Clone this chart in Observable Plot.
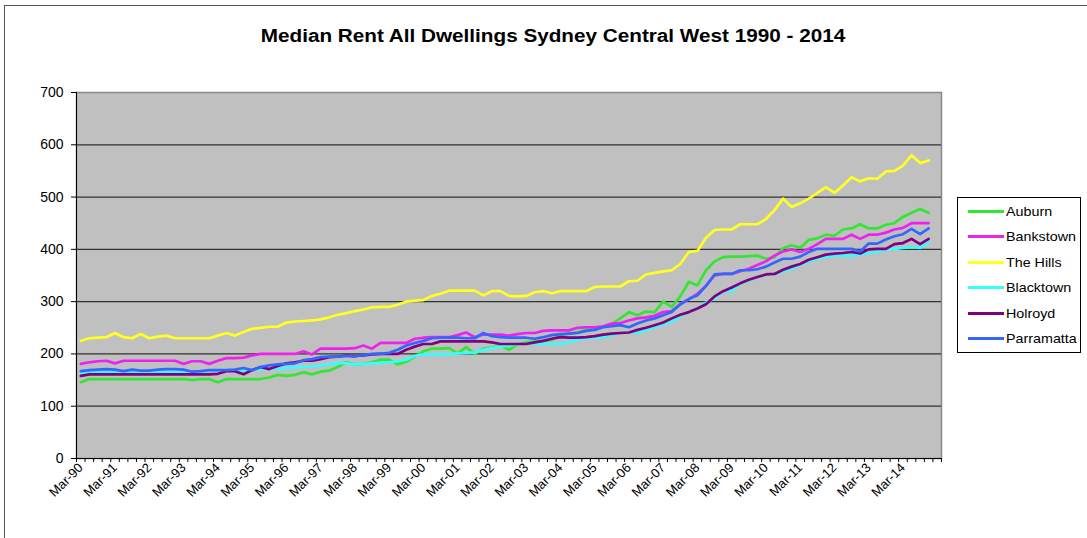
<!DOCTYPE html>
<html>
<head>
<meta charset="utf-8">
<script src="https://cdn.jsdelivr.net/npm/d3@7"></script>
<script src="https://cdn.jsdelivr.net/npm/@observablehq/plot@0.6"></script>
<style>
  html, body { margin: 0; padding: 0; background: #fff; overflow: hidden; }
  body { font-family: "Liberation Sans", Arial, sans-serif; width: 1087px; height: 538px; position: relative; }
  #frame { position: absolute; left: 4px; top: 5px; width: 1100px; height: 600px; border: 1px solid #555; }
  #title { position: absolute; left: 0; top: 26px; width: 1106px; text-align: center; font-weight: bold; font-size: 18px; color: #000; transform: scaleX(1.15); transform-origin: 553px 0; }
  #chart { position: absolute; left: 0; top: 60px; }
  #legend { position: absolute; left: 957px; top: 197px; width: 122px; height: 154px; border: 1px solid #000; background: #fff; }
  .lg-row { position: absolute; left: 0; height: 16px; font-size: 13px; line-height: 16px; white-space: nowrap; }
  .lg-line { position: absolute; left: 10px; top: 6px; width: 36px; height: 3px; }
  .lg-text { position: absolute; left: 48px; top: 0; transform: scaleX(1.1); transform-origin: 0 0; }
</style>
</head>
<body>
<div id="frame"></div>
<div id="title">Median Rent All Dwellings Sydney Central West 1990 - 2014</div>
<div id="chart"></div>
<div id="legend"></div>
<script>
// ---- data ----
const years = ["90","91","92","93","94","95","96","97","98","99","00","01","02","03","04","05","06","07","08","09","10","11","12","13","14"];
const months = ["Mar","Jun","Sep","Dec"];
const seriesNames = ["Auburn","Bankstown","The Hills","Blacktown","Holroyd","Parramatta"];
const seriesColors = ["#33e633","#ee22ee","#ffff22","#33ffff","#800080","#3366ff"];
const yTicks = [0,100,200,300,400,500,600,700];

const auburn = [
146,152,152,152,152,152,152,152,
152,152,152,152,152,150,152,152,
146,152,152,152,152,152,155,160,
158,160,165,161,166,168,175,184,
180,181,184,189,189,180,185,195,
205,210,210,211,201,213,200,210,
212,216,208,218,222,224,225,227,
235,239,242,246,249,252,257,268,
280,274,281,280,300,290,310,338,
331,360,377,385,386,386,387,388,
382,385,402,408,403,418,421,428,
426,438,440,448,440,440,447,450,
462,470,477,470];

const bankstown = [
181,184,186,187,182,187,187,187,
187,187,187,187,181,186,186,181,
187,192,192,193,197,200,200,200,
200,200,205,199,210,210,210,210,
211,216,210,221,221,221,221,229,
231,232,232,232,236,241,232,237,
237,237,235,238,240,240,244,245,
245,245,250,251,251,253,258,259,
264,268,270,273,280,282,295,305,
315,330,350,353,353,358,363,370,
377,388,396,400,395,401,410,420,
420,420,428,420,428,428,432,438,
441,450,450,450];

const theHills = [
225,230,231,232,240,232,230,238,
230,233,235,230,230,230,230,230,
235,240,235,242,248,250,252,252,
260,262,263,264,266,270,275,278,
282,285,289,290,290,294,300,302,
303,311,315,321,321,321,321,312,
320,320,311,310,311,318,320,316,
320,320,320,320,328,329,329,329,
339,340,352,355,358,360,372,395,
397,422,437,438,438,448,448,448,
458,475,497,481,488,497,508,519,
508,522,538,530,536,535,549,550,
560,580,565,570];

const blacktown = [
162,165,165,165,165,165,165,165,
165,165,165,165,165,165,165,168,
168,168,168,168,170,171,171,172,
173,174,175,176,178,180,183,182,
180,181,182,183,184,186,189,196,
199,199,199,199,201,202,203,208,
211,214,216,218,219,219,219,219,
219,223,227,230,231,232,236,240,
242,240,246,251,257,262,272,280,
287,298,306,320,320,335,340,347,
351,353,358,363,370,377,382,385,
388,388,388,390,393,395,400,401,
403,404,403,413];

const holroyd = [
158,161,161,161,161,161,161,161,
161,161,161,161,161,161,161,161,
162,167,167,161,169,175,171,177,
182,184,187,187,190,194,195,197,
196,197,199,200,200,200,208,214,
219,219,224,224,224,224,224,224,
222,219,219,219,219,222,225,229,
232,231,231,232,234,237,239,240,
241,246,250,255,260,268,275,280,
287,295,310,320,327,335,342,347,
352,353,361,367,372,380,385,390,
392,393,395,392,400,401,401,410,
412,420,410,420];

const parramatta = [
167,169,170,171,170,167,170,168,
168,170,171,171,170,166,167,169,
169,169,170,173,169,175,178,180,
181,182,188,190,194,195,195,196,
195,198,200,200,202,208,216,221,
225,230,231,231,231,230,230,240,
234,232,231,231,231,229,232,236,
238,239,240,244,246,251,253,255,
251,258,264,268,274,280,295,305,
312,330,352,353,353,360,360,362,
367,375,382,382,386,395,401,401,
401,401,401,396,411,411,419,425,
429,439,429,440];

const seriesValues = [auburn, bankstown, theHills, blacktown, holroyd, parramatta];

// ---- derived tables ----
const quarters = [];
years.forEach(y => months.forEach(m => quarters.push(m + "-" + y)));
const labelIdx = quarters.map((q, i) => i).filter(i => quarters[i].startsWith("Mar"));
const nCats = quarters.length + 1; // one empty category at the end, as in the original
const tickBounds = d3.range(0, nCats + 1).map(k => k - 0.5);

const rows = [];
seriesNames.forEach((name, k) => seriesValues[k].forEach((v, i) => rows.push({name, i, v})));

const font = "'Liberation Sans', Arial, sans-serif";

const chart = Plot.plot({
  width: 1087,
  height: 478,
  marginLeft: 76,
  marginRight: 146,
  marginTop: 32,
  marginBottom: 80,
  style: {fontFamily: font, fontSize: "12px", color: "#000", background: "transparent", overflow: "visible"},
  x: {domain: [-0.5, nCats - 0.5]},
  y: {domain: [0, 700]},
  color: {domain: seriesNames, range: seriesColors},
  marks: [
    Plot.frame({fill: "#c0c0c0", stroke: "#8a8a8a", strokeWidth: 1.5}),
    Plot.gridY(yTicks.filter(t => t > 0 && t < 700), {stroke: "#333", strokeOpacity: 1, strokeWidth: 1.2}),
    Plot.line(rows, {x: "i", y: "v", z: "name", stroke: "name", strokeWidth: 2.7, strokeLinejoin: "round"}),
    Plot.ruleX([-0.5], {stroke: "#000", strokeWidth: 1}),
    Plot.ruleY([0], {stroke: "#000", strokeWidth: 1}),
    Plot.axisY(yTicks, {tickSize: 5, tickPadding: 8, fontSize: 14, label: null, stroke: "#000"}),
    Plot.axisX(tickBounds, {tickSize: 4, tickFormat: () => "", label: null, stroke: "#000"}),
    Plot.axisX(labelIdx, {tickSize: 0, tickPadding: 7, tickRotate: -45, tickFormat: i => quarters[i], label: null, fontSize: 13})
  ]
});
document.getElementById("chart").appendChild(chart);

// ---- legend ----
const legend = document.getElementById("legend");
const rowTops = [6, 31, 57, 82, 108, 133];
seriesNames.forEach((name, k) => {
  const row = document.createElement("div");
  row.className = "lg-row";
  row.style.top = rowTops[k] + "px";
  const ln = document.createElement("div");
  ln.className = "lg-line";
  ln.style.background = seriesColors[k];
  const tx = document.createElement("div");
  tx.className = "lg-text";
  tx.textContent = name;
  row.appendChild(ln);
  row.appendChild(tx);
  legend.appendChild(row);
});
</script>
</body>
</html>
